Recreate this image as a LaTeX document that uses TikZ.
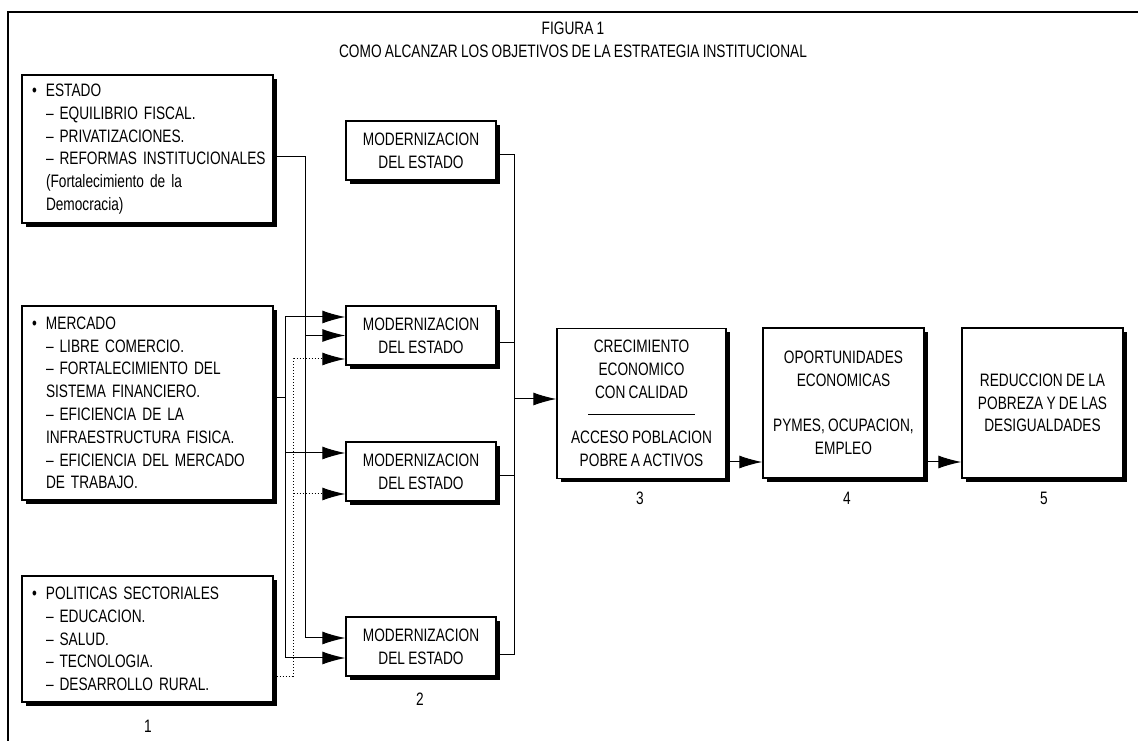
\documentclass[tikz,border=0pt]{standalone}
\usepackage{fontspec}
\setmainfont{Liberation Sans}[FakeStretch=0.76, WordSpace=0.85]
\usepackage{tikz}
\usetikzlibrary{arrows.meta,shadows}
\newcommand{\listbul}[1]{\makebox[14pt][l]{\textbullet}\mbox{#1}}
\newcommand{\listind}[1]{\makebox[14pt][l]{}\mbox{#1}}

\begin{document}
\begin{tikzpicture}[x=1pt, y=1pt, >={Latex[length=23pt,width=13pt]},
    every node/.append style={font=\fontsize{18}{22.8}\selectfont},
    shbox/.style={draw, line width=1.4pt, fill=white, inner sep=0pt,
      drop shadow={shadow xshift=4pt, shadow yshift=-4pt, opacity=1, fill=black}},
    listbox/.style={shbox, minimum width=251pt, text width=231pt, align=left, inner xsep=10pt},
    modbox/.style={shbox, minimum width=150pt, minimum height=59pt, align=center},
    goalbox/.style={shbox, minimum height=150pt, align=center},
    wire/.style={line width=1pt},
    dotwire/.style={line width=1pt, dotted}]
    \useasboundingbox (0,0) rectangle (1138,741);

    % Frame and title
    \draw[line width=1.4pt] (8,0) -- (8,729) -- (1138,729);
    \node[align=center] (title) at (573,701) {FIGURA 1\\COMO ALCANZAR LOS OBJETIVOS DE LA ESTRATEGIA INSTITUCIONAL};

    % Column 1: areas of action
    \node[listbox, minimum height=148pt] (est) at (147.5,592) {%
      \listbul{ESTADO}\\
      \listind{– EQUILIBRIO FISCAL.}\\
      \listind{– PRIVATIZACIONES.}\\
      \listind{– REFORMAS INSTITUCIONALES}\\
      \listind{(Fortalecimiento de la}\\
      \listind{Democracia)}};
    \node[listbox, minimum height=194pt] (mer) at (147.5,338) {%
      \listbul{MERCADO}\\
      \listind{– LIBRE COMERCIO.}\\
      \listind{– FORTALECIMIENTO DEL}\\
      \listind{SISTEMA FINANCIERO.}\\
      \listind{– EFICIENCIA DE LA}\\
      \listind{INFRAESTRUCTURA FISICA.}\\
      \listind{– EFICIENCIA DEL MERCADO}\\
      \listind{DE TRABAJO.}};
    \node[listbox, minimum height=126pt] (pol) at (147.5,102) {%
      \listbul{POLITICAS SECTORIALES}\\
      \listind{– EDUCACION.}\\
      \listind{– SALUD.}\\
      \listind{– TECNOLOGIA.}\\
      \listind{– DESARROLLO RURAL.}};

    % Column 2: four equal boxes
    \foreach \i/\y in {1/590.5, 2/405.5, 3/269.5, 4/94.5}
      \node[modbox] (m\i) at (421,\y) {MODERNIZACION\\DEL ESTADO};

    % Columns 3 to 5
    \node[goalbox, minimum width=169pt] (b3) at (641.5,337.5) {%
      CRECIMIENTO\\ECONOMICO\\CON CALIDAD\\\rule[6pt]{107pt}{0.9pt}\\ACCESO POBLACION\\POBRE A ACTIVOS};
    \node[goalbox, minimum width=161pt] (b4) at (843.5,338) {%
      OPORTUNIDADES\\ECONOMICAS\\[22.8pt]PYMES, OCUPACION,\\EMPLEO};
    \node[goalbox, minimum width=161pt] (b5) at (1042.5,338) {%
      REDUCCION DE LA\\POBREZA Y DE LAS\\DESIGUALDADES};

    % Column numbers
    \foreach \n/\x/\y in {1/148/15, 2/420/42, 3/640/243, 4/847/243, 5/1044/243}
      \node (n\n) at (\x,\y) {\n};

    % ESTADO feeds boxes 2 and 4
    \draw[wire,->] ([yshift=-8pt]est.east) -- ++(32,0) coordinate (ej) |- ([yshift=8.5pt]m4.west);
    \draw[wire,->] (m2.west -| ej) -- (m2.west);
    % MERCADO feeds boxes 2, 3 and 4
    \draw[wire] ([yshift=5pt]mer.east) -- ++(12,0) coordinate (mj);
    \foreach \t/\d in {m2/18.5, m3/18.5, m4/-11.5}
      \draw[wire,->] (mj) |- ([yshift=\d pt]\t.west);
    % POLITICAS feeds boxes 2 and 3 (dotted)
    \draw[dotwire] ([yshift=-38pt]pol.east) -- ++(20,0) coordinate (pj);
    \foreach \t/\d in {m2/-23.5, m3/-22.5}
      \draw[dotwire,->] (pj) |- ([yshift=\d pt]\t.west);

    % Collector into box 3, then on to 4 and 5
    \draw[wire] ([yshift=-4.5pt]m1.east) -- ++(18,0) coordinate (rb) |- ([yshift=-8.5pt]m4.east);
    \draw[wire] ([yshift=-7.5pt]m2.east) -| (rb);
    \draw[wire] ([yshift=-4.5pt]m3.east) -| (rb);
    \draw[wire,->] ([yshift=4.5pt]b3.west -| rb) -- ([yshift=4.5pt]b3.west);
    \draw[wire,->] ([yshift=-58.5pt]b3.east) -- ([yshift=-58.5pt]b3.east -| b4.west);
    \draw[wire,->] ([yshift=-59pt]b4.east) -- ([yshift=-59pt]b4.east -| b5.west);
\end{tikzpicture}
\end{document}
